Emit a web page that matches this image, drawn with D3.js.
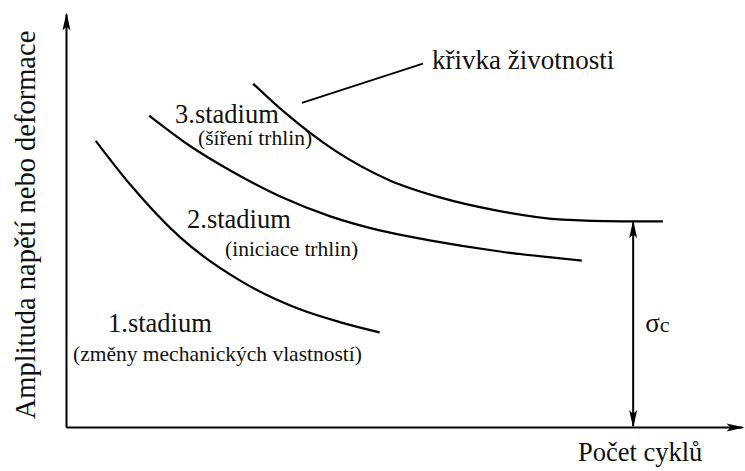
<!DOCTYPE html>
<html lang="cs">
<head>
    <meta charset="UTF-8">
    <title>Křivka životnosti</title>
    <script src="https://d3js.org/d3.v7.min.js"></script>
    <style>
        * { margin: 0; padding: 0; box-sizing: border-box; }
        body { background: #ffffff; overflow: hidden; }
        .curve { fill: none; stroke: #000; stroke-width: 2.2px; }
        .axis path { stroke: #000; stroke-width: 2px; }
    </style>
</head>
<body>
    <svg></svg>
    <script>
        // stadia - krivky (x = pocet cyklu, y = amplituda), jednotky 0..100
        const stadium1X = [4.4, 9.5, 16.9, 25.7, 34.6, 40.5, 46.4];
        const stadium1Y = [69.3, 58.7, 45.9, 35.5, 28.5, 25.4, 22.9];

        const stadium2X = [12.3, 18.3, 24.3, 31.7, 39.1, 46.4, 53.8, 64.2, 76.3];
        const stadium2Y = [75.4, 68.1, 62.1, 55.8, 51.0, 47.6, 45.2, 42.5, 40.3];

        const stadium3X = [27.7, 32.4, 39.8, 47.9, 55.3, 63.8, 73.5, 82.0, 88.3];
        const stadium3Y = [83.1, 76.1, 66.9, 59.7, 55.6, 52.4, 50.2, 49.8, 49.8];

        // mez unavy sigma_c
        const sigmaX = 83.9;
        const sigmaY = 49.8;

        // odkaz na krivku zivotnosti
        const leaderX = [34.9, 52.8];
        const leaderY = [78.5, 88.0];

        const stadiumLabels = ["1.stadium", "2.stadium", "3.stadium"];
        const stadiumNotes = ["(změny mechanických vlastností)", "(iniciace trhlin)", "(šíření trhlin)"];
        const curveLabel = "křivka životnosti";
        const xTitle = "Počet cyklů";
        const yTitle = "Amplituda napětí nebo deformace";

        const serif = "'Liberation Serif', 'Times New Roman', Times, serif";

        const width = 745, height = 471;
        const svg = d3.select("svg").attr("width", width).attr("height", height)
            .attr("font-family", serif);

        const x = d3.scaleLinear().domain([0, 100]).range([66, 742]);
        const y = d3.scaleLinear().domain([0, 100]).range([427, 14]);

        // sipky
        const defs = svg.append("defs");
        defs.append("marker")
            .attr("id", "arrow")
            .attr("viewBox", "-18 -5 20 10")
            .attr("refX", 0).attr("refY", 0)
            .attr("markerUnits", "userSpaceOnUse")
            .attr("markerWidth", 20).attr("markerHeight", 10)
            .attr("orient", "auto-start-reverse")
            .append("path")
            .attr("d", "M2,0 L-16,-4 L-12,0 L-16,4 Z")
            .attr("fill", "#000");

        // osy
        const xAxis = svg.append("g")
            .attr("class", "axis")
            .attr("transform", `translate(0,${y(0)})`)
            .call(d3.axisBottom(x).ticks(0).tickSizeOuter(0));
        xAxis.select(".domain").attr("marker-end", "url(#arrow)");

        const yAxis = svg.append("g")
            .attr("class", "axis")
            .attr("transform", `translate(${x(0)},0)`)
            .call(d3.axisLeft(y).ticks(0).tickSizeOuter(0));
        yAxis.select(".domain").attr("marker-end", "url(#arrow)");

        // krivky
        const line = d3.line()
            .x(d => x(d[0]))
            .y(d => y(d[1]))
            .curve(d3.curveMonotoneX);

        const curves = [
            d3.zip(stadium1X, stadium1Y),
            d3.zip(stadium2X, stadium2Y),
            d3.zip(stadium3X, stadium3Y)
        ];

        svg.append("g").selectAll("path")
            .data(curves)
            .enter().append("path")
            .attr("class", "curve")
            .attr("d", line);

        // odkazova cara
        svg.append("line")
            .attr("x1", x(leaderX[0])).attr("y1", y(leaderY[0]))
            .attr("x2", x(leaderX[1])).attr("y2", y(leaderY[1]))
            .attr("stroke", "#000").attr("stroke-width", 1.8);

        // sigma_c obousmerna sipka
        svg.append("line")
            .attr("x1", x(sigmaX)).attr("y1", y(sigmaY) + 1)
            .attr("x2", x(sigmaX)).attr("y2", y(0) - 1)
            .attr("stroke", "#000").attr("stroke-width", 2)
            .attr("marker-start", "url(#arrow)")
            .attr("marker-end", "url(#arrow)");

        const txt = svg.append("g").attr("font-family", serif).attr("fill", "#111");

        const sig = txt.append("text")
            .attr("x", x(sigmaX) + 12)
            .attr("y", 332)
            .attr("font-size", 27);
        sig.append("tspan").text("σ");
        sig.append("tspan").attr("font-size", 22).text("c");

        // popisky stadii
        const labelPos = [[108, 332], [187, 228], [175, 123]];
        const notePos = [[73, 361], [225, 256], [198, 145]];

        txt.append("g").selectAll("text")
            .data(stadiumLabels)
            .enter().append("text")
            .attr("x", (d, i) => labelPos[i][0])
            .attr("y", (d, i) => labelPos[i][1])
            .attr("font-size", 26.5)
            .text(d => d);

        txt.append("g").selectAll("text")
            .data(stadiumNotes)
            .enter().append("text")
            .attr("x", (d, i) => notePos[i][0])
            .attr("y", (d, i) => notePos[i][1])
            .attr("font-size", 21.5)
            .text(d => d);

        txt.append("text")
            .attr("x", 432).attr("y", 69)
            .attr("font-size", 27)
            .text(curveLabel);

        // nazvy os
        txt.append("text")
            .attr("x", 578).attr("y", 461)
            .attr("font-size", 26.5)
            .text(xTitle);

        txt.append("text")
            .attr("transform", "translate(35,225) rotate(-90)")
            .attr("text-anchor", "middle")
            .attr("font-size", 28.5)
            .text(yTitle);
    </script>
</body>
</html>
